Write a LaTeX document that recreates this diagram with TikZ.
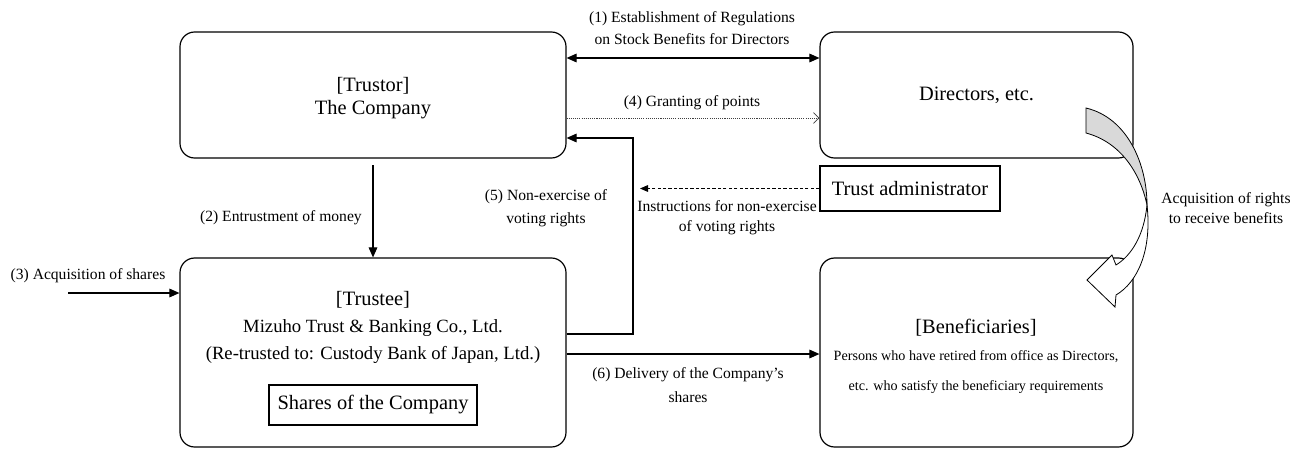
\documentclass[tikz,border=0pt]{standalone}
\usepackage{fontspec}
\setmainfont{Liberation Serif}
\usetikzlibrary{arrows.meta}
\begin{document}
\begin{tikzpicture}[x=0.75pt,y=-0.75pt,
  rbox/.style={draw, line width=0.9pt, rounded corners=11pt, inner sep=0pt},
  sbox/.style={draw, line width=0.9pt, inner sep=0pt},
  big/.style={font=\fontsize{15.3}{18}\selectfont, inner sep=0pt},
  mid/.style={font=\fontsize{14}{18}\selectfont, inner sep=0pt},
  sml/.style={font=\fontsize{10.6}{14}\selectfont, inner sep=0pt},
  lab/.style={font=\fontsize{11.7}{16}\selectfont, align=center, inner sep=0pt},
  tip/.style={Triangle[length=7.5pt,width=6.5pt]},
  conn/.style={line width=0.8pt, -{Triangle[length=7.5pt,width=6.5pt]}},
  dconn/.style={line width=0.8pt, {Triangle[length=7.5pt,width=6.5pt]}-{Triangle[length=7.5pt,width=6.5pt]}},
  dotconn/.style={line width=0.5pt, black!75, dash pattern=on 0.8pt off 0.8pt, -{Straight Barb[length=4pt,width=8pt,line width=0.6pt]}},
  dashconn/.style={line width=0.7pt, dash pattern=on 2.5pt off 1.6pt, -{Triangle[length=6pt,width=5pt]}},
]
\useasboundingbox (0,0) rectangle (1306,450);

% boxes
\node[rbox, minimum width=289.5pt, minimum height=94.5pt] (trustor) at (373,95) {};
\node[big] (trustorT) at (373,86) {[Trustor]};
\node[big] (trustorC) at (373,110) {The Company};

\node[rbox, big, minimum width=234.75pt, minimum height=94.5pt] (directors) at (976.5,95) {Directors, etc.};

\node[sbox, big, minimum width=135pt, minimum height=33.75pt] (admin) at (910,188.5) {Trust administrator};

\node[rbox, minimum width=289.5pt, minimum height=141.75pt] (trustee) at (373,352.5) {};
\node[big] (trusteeT) at (373,300) {[Trustee]};
\node[mid] (mizuho) at (373,328) {Mizuho Trust \& Banking Co., Ltd.};
\node[mid] (retrust) at (373,355) {(Re-trusted to: Custody Bank of Japan, Ltd.)};
\node[sbox, big, minimum width=156pt, minimum height=30pt] (shares) at (373,405) {Shares of the Company};

\node[rbox, minimum width=234.75pt, minimum height=141.75pt] (benef) at (976.5,352.5) {};
\node[big] (benefT) at (976,328) {[Beneficiaries]};
\node[sml] (benef1) at (976,357) {Persons who have retired from office as Directors,};
\node[sml] (benef2) at (976,387) {etc. who satisfy the beneficiary requirements};

% (1)
\draw[dconn] (trustor.east |- 0,58) -- (directors.west |- 0,58);
\node[lab] (l1) at (692,28) {(1) Establishment of Regulations\\on Stock Benefits for Directors};

% (4)
\draw[dotconn] (trustor.east |- 0,118) -- (directors.west |- 0,118);
\node[lab] (l4) at (692,103) {(4) Granting of points};

% (5)
\coordinate (c5a) at (633,334);
\coordinate (c5b) at (633,138);
\draw[conn] (trustee.east |- c5a) -- (c5a) -- (c5b) -- (trustor.east |- c5b);
\node[lab, font=\fontsize{11.7}{17}\selectfont] (l5) at (546,208.5) {(5) Non-exercise of\\voting rights};

% instructions
\coordinate (ci) at (640,188.5);
\draw[dashconn] (admin.west) -- (ci);
\node[lab, font=\fontsize{11.7}{15}\selectfont] (li) at (727,218) {Instructions for non-exercise\\of voting rights};

% (2)
\draw[conn, shorten <=5pt] (trustor.south) -- (trustee.north);
\node[lab, anchor=east] (l2) at (362,218) {(2) Entrustment of money};

% (3)
\coordinate (c3) at (68,293);
\draw[conn] (c3) -- (trustee.west |- c3);
\node[lab] (l3) at (88,276) {(3) Acquisition of shares};

% (6)
\draw[conn] (trustee.east |- 0,354) -- (benef.west |- 0,354);
\node[lab, font=\fontsize{11.7}{18}\selectfont] (l6) at (688,385) {(6) Delivery of the Company's\\shares};

% curved block arrow
\coordinate (X) at (1147,205);
\draw[line width=0.6pt, fill=white]
  (X) .. controls (1144,235) and (1132,255) .. (1116,265)
  -- (1112,255) -- (1087,280) -- (1115,307) -- (1116,295)
  .. controls (1138,282) and (1152,250) .. (X) -- cycle;
\draw[line width=0.6pt, fill=black!15]
  (1086,108) .. controls (1128,118) and (1147,165) .. (X)
  .. controls (1140,172) and (1120,142) .. (1086,133) -- cycle;
\node[lab, font=\fontsize{11.7}{15}\selectfont] (lacq) at (1226,208) {Acquisition of rights\\to receive benefits};

\end{tikzpicture}
\end{document}
